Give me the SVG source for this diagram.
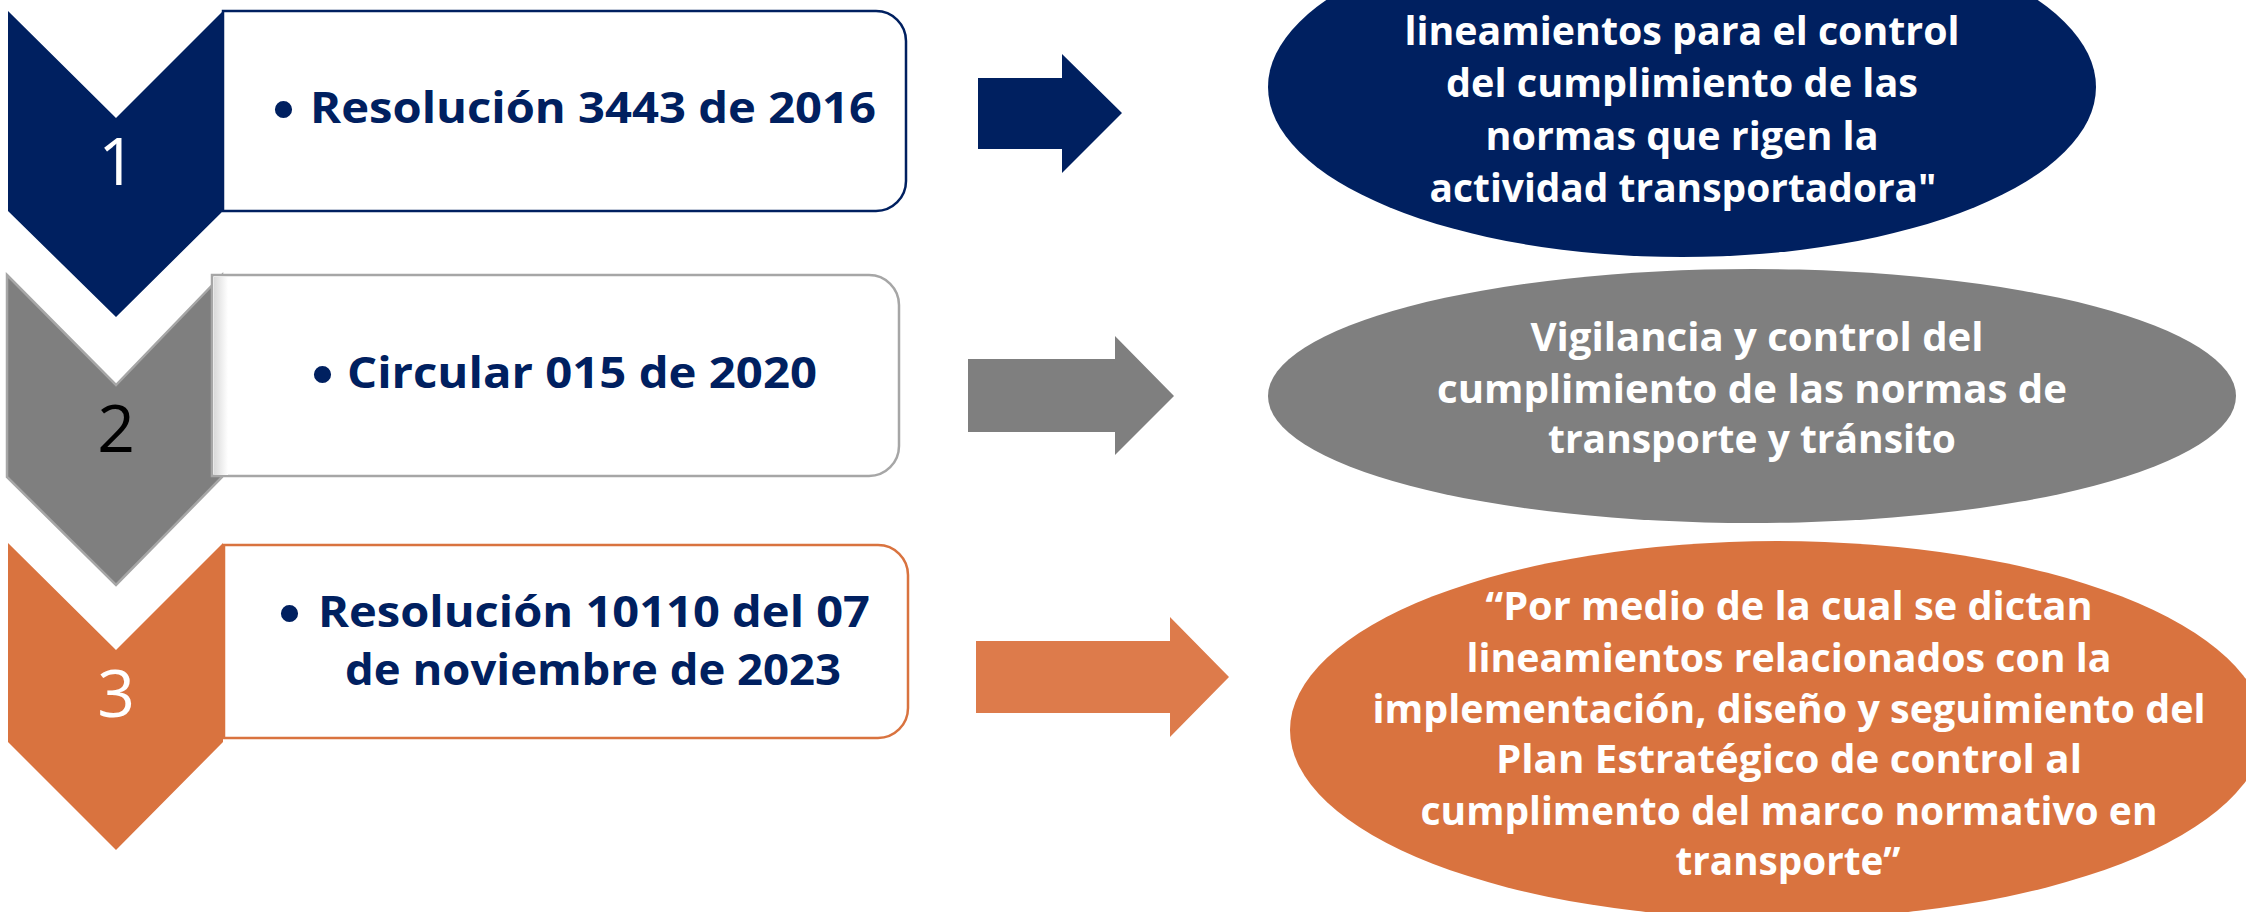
<svg xmlns="http://www.w3.org/2000/svg" width="2246" height="912" viewBox="0 0 2246 912">
<style>
.lbl{font-family:"Open Sans","Liberation Sans",sans-serif;font-weight:700;font-size:43px;fill:#002060}
.bul{font-family:"Liberation Sans",sans-serif;font-weight:700;font-size:60px;fill:#002060}
.num{font-family:"Open Sans","Liberation Sans",sans-serif;font-weight:400;font-size:66px;text-anchor:middle}
.et{font-family:"Open Sans","Liberation Sans",sans-serif;font-weight:700;font-size:39px;fill:#ffffff;text-anchor:middle}
</style>
<defs>
<linearGradient id="shade" x1="0" y1="0" x2="1" y2="0">
<stop offset="0" stop-color="#d9d9d9"/>
<stop offset="1" stop-color="#ffffff"/>
</linearGradient>
</defs>
<rect width="2246" height="912" fill="#ffffff"/>

<g id="step1">
<polygon points="8,11 116,118 223,11 223,211 116,317 8,211" fill="#002060"/>
<path d="M223,11 H876 A30,30 0 0 1 906,41 V181 A30,30 0 0 1 876,211 H223 Z" fill="#ffffff" stroke="#002060" stroke-width="2.5"/>
<text class="num" x="117" y="185" fill="#ffffff">1</text>
<text class="bul" x="273" y="129">•</text>
<text class="lbl" x="310" y="123" textLength="566" lengthAdjust="spacingAndGlyphs">Resolución 3443 de 2016</text>
</g>

<g id="step2">
<polygon points="7,275 116,385 222,275 222,477 116,585 7,477" fill="#7f7f7f" stroke="#a6a6a6" stroke-width="2.5" stroke-linejoin="miter"/>
<path d="M212,275 H869 A30,30 0 0 1 899,305 V446 A30,30 0 0 1 869,476 H212 Z" fill="#ffffff" stroke="#a6a6a6" stroke-width="2.5"/>
<rect x="214" y="277" width="14" height="198" fill="url(#shade)"/>
<text class="num" x="116" y="452" fill="#000000">2</text>
<text class="bul" x="312" y="394">•</text>
<text class="lbl" x="347" y="388" textLength="470" lengthAdjust="spacingAndGlyphs">Circular 015 de 2020</text>
</g>

<g id="step3">
<polygon points="8,543 116,650 223,543 223,742 116,850 8,742" fill="#d9733f"/>
<path d="M224,545 H878 A30,30 0 0 1 908,575 V708 A30,30 0 0 1 878,738 H224 Z" fill="#ffffff" stroke="#d9733f" stroke-width="2.5"/>
<text class="num" x="116" y="717" fill="#ffffff">3</text>
<text class="bul" x="279" y="633">•</text>
<text class="lbl" x="318" y="627" textLength="552" lengthAdjust="spacingAndGlyphs">Resolución 10110 del 07</text>
<text class="lbl" x="345" y="685" textLength="496" lengthAdjust="spacingAndGlyphs">de noviembre de 2023</text>
</g>

<g id="connectors">
<polygon points="978,78 1062,78 1062,54 1122,113 1062,173 1062,149 978,149" fill="#002060"/>
<polygon points="968,359 1115,359 1115,336 1174,396 1115,455 1115,432 968,432" fill="#7f7f7f"/>
<polygon points="976,641 1170,641 1170,617 1229,677 1170,737 1170,713 976,713" fill="#dd7b4b"/>
</g>

<g id="result1">
<ellipse cx="1682" cy="87" rx="414" ry="170" fill="#002060"/>
<text class="et" x="1682" y="45" textLength="555" lengthAdjust="spacingAndGlyphs">lineamientos para el control</text>
<text class="et" x="1682" y="97" textLength="472" lengthAdjust="spacingAndGlyphs">del cumplimiento de las</text>
<text class="et" x="1682" y="150" textLength="393" lengthAdjust="spacingAndGlyphs">normas que rigen la</text>
<text class="et" x="1683" y="202" textLength="507" lengthAdjust="spacingAndGlyphs">actividad transportadora"</text>
</g>

<g id="result2">
<ellipse cx="1752" cy="396" rx="484" ry="127" fill="#7f7f7f"/>
<text class="et" x="1757" y="351" textLength="453" lengthAdjust="spacingAndGlyphs">Vigilancia y control del</text>
<text class="et" x="1752" y="403" textLength="630" lengthAdjust="spacingAndGlyphs">cumplimiento de las normas de</text>
<text class="et" x="1752" y="453" textLength="408" lengthAdjust="spacingAndGlyphs">transporte y tránsito</text>
</g>

<g id="result3">
<ellipse cx="1777" cy="730" rx="487" ry="189" fill="#d9733f"/>
<text class="et" x="1789" y="620" textLength="607" lengthAdjust="spacingAndGlyphs">“Por medio de la cual se dictan</text>
<text class="et" x="1789" y="672" textLength="645" lengthAdjust="spacingAndGlyphs">lineamientos relacionados con la</text>
<text class="et" x="1789" y="723" textLength="833" lengthAdjust="spacingAndGlyphs">implementación, diseño y seguimiento del</text>
<text class="et" x="1789" y="773" textLength="586" lengthAdjust="spacingAndGlyphs">Plan Estratégico de control al</text>
<text class="et" x="1789" y="825" textLength="737" lengthAdjust="spacingAndGlyphs">cumplimento del marco normativo en</text>
<text class="et" x="1788" y="875" textLength="225" lengthAdjust="spacingAndGlyphs">transporte”</text>
</g>
</svg>
